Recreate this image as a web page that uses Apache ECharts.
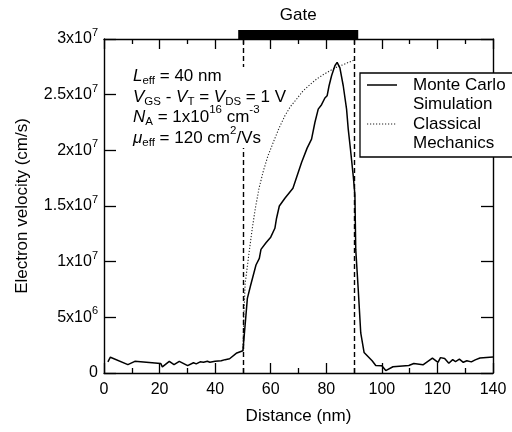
<!DOCTYPE html>
<html><head><meta charset="utf-8">
<script src="https://cdn.jsdelivr.net/npm/echarts@6/dist/echarts.min.js"></script>
<style>html,body{margin:0;padding:0;background:#fff}#c{width:512px;height:432px}</style>
</head><body><div id="c"></div>
<script>
// Monte Carlo simulation (distance nm, velocity in units of 1e6 cm/s)
const mcX = [1.4,2.3,8.6,11.1,20.4,21.0,23.5,25.2,27.1,30.1,32.2,33.2,34.6,35.8,37.2,38.1,40.0,42.2,43.6,45.2,47.8,50.0,51.6,52.8,54.7,55.9,56.5,58.3,60.0,61.5,62.1,63.1,65.1,68.0,71.1,73.1,74.7,75.9,77.1,78.3,79.5,80.3,81.0,81.9,83.1,83.9,84.9,86.1,87.3,87.9,88.7,89.7,90.3,90.6,91.5,92.4,93.6,96.5,97.8,100.0,101.4,104.0,109.7,111.5,114.8,118.2,120.2,121.1,122.6,124.1,125.5,126.5,127.9,129.3,130.6,132.2,133.6,135.3,140.0];
const mcY = [1.0,1.42,0.75,1.05,0.86,0.55,1.05,0.75,1.05,0.66,0.92,0.82,1.0,0.96,1.05,0.96,1.05,1.1,1.2,1.28,1.8,2.0,6.7,7.9,9.7,10.3,11.1,11.7,12.2,13.0,13.9,15.0,15.7,16.6,18.9,20.2,21.0,22.5,23.7,24.1,24.7,24.9,25.8,26.7,27.6,27.9,27.4,25.8,23.7,21.9,20.1,17.7,16.0,11.1,7.5,3.6,1.85,1.1,0.68,0.65,0.22,0.56,0.68,0.85,0.74,1.33,0.96,1.38,1.3,0.88,1.2,1.03,1.24,0.96,1.1,1.0,1.18,1.35,1.43];
// Classical mechanics
const clX = [50.0,50.3,50.8,52.0,53.2,54.4,55.8,57.3,59.0,60.9,63.0,65.1,67.0,69.3,71.5,74.1,76.5,78.9,81.0,83.1,86.1,90.0];
const clY = [2.0,5.0,8.0,10.4,12.7,14.7,16.6,18.1,19.5,20.7,22.0,23.1,23.9,24.6,25.3,25.9,26.4,26.8,27.1,27.4,27.7,28.1];
// Gate region and edges (nm)
const gateRange = [48.3, 91.5];
const gateEdges = [50, 90];
// Tick labels
const xTickLabels = ['0','20','40','60','80','100','120','140'];
const yTickBase = ['0','5x10','1x10','1.5x10','2x10','2.5x10','3x10'];
const yTickExp = ['','6','7','7','7','7','7'];

const FONT = '"Liberation Sans", Arial, sans-serif';
const chart = echarts.init(document.getElementById('c'), null, {renderer: 'canvas'});

const axisCommon = {
  axisLine: {show: true, onZero: false, lineStyle: {color: '#000', width: 1.4}},
  splitLine: {show: false}
};

chart.setOption({
  animation: false,
  backgroundColor: '#fff',
  textStyle: {fontFamily: FONT, color: '#000'},
  grid: {left: 104, right: 19, top: 39, bottom: 59, containLabel: false},
  xAxis: [
    Object.assign({
      type: 'value', position: 'bottom', min: 0, max: 140, interval: 20,
      axisTick: {show: true, inside: true, length: 10, lineStyle: {color: '#000', width: 1.3}},
      minorTick: {show: true, splitNumber: 2, length: 5, lineStyle: {color: '#000', width: 1.3}},
      axisLabel: {margin: 9, fontSize: 16, color: '#000', fontFamily: FONT,
        formatter: v => xTickLabels[Math.round(v / 20)]},
      name: 'Distance (nm)', nameLocation: 'middle', nameGap: 35,
      nameTextStyle: {fontSize: 17, color: '#000', fontFamily: FONT}
    }, axisCommon),
    Object.assign({
      type: 'value', position: 'top', min: 0, max: 140, interval: 20,
      axisTick: {show: true, inside: true, length: 10, lineStyle: {color: '#000', width: 1.3}},
      minorTick: {show: true, splitNumber: 2, length: 5, lineStyle: {color: '#000', width: 1.3}},
      axisLabel: {show: false}
    }, axisCommon)
  ],
  yAxis: [
    Object.assign({
      type: 'value', position: 'left', min: 0, max: 30, interval: 5,
      axisTick: {show: true, inside: true, length: 12, lineStyle: {color: '#000', width: 1.3}},
      axisLabel: {margin: 6, color: '#000', fontFamily: FONT,
        formatter: v => {
          const i = Math.round(v / 5);
          return '{b|' + yTickBase[i] + '}' + (yTickExp[i] ? '{s|' + yTickExp[i] + '}' : '');
        },
        rich: {
          b: {fontSize: 16, fontFamily: FONT, color: '#000'},
          s: {fontSize: 11, fontFamily: FONT, color: '#000', padding: [0, 0, 12, 0]}
        }
      },
      name: 'Electron velocity (cm/s)', nameLocation: 'middle', nameGap: 73, nameRotate: 90,
      nameTextStyle: {fontSize: 17, color: '#000', fontFamily: FONT}
    }, axisCommon),
    Object.assign({
      type: 'value', position: 'right', min: 0, max: 30, interval: 5,
      axisTick: {show: true, inside: true, length: 12, lineStyle: {color: '#000', width: 1.3}},
      axisLabel: {show: false}
    }, axisCommon)
  ],
  series: [
    {
      type: 'line', name: 'Classical', data: clX.map((x, i) => [x, clY[i]]),
      showSymbol: false, symbol: 'none', z: 3,
      lineStyle: {color: '#222', width: 1.1, type: [1.2, 1.8]}
    },
    {
      type: 'line', name: 'Monte Carlo', data: mcX.map((x, i) => [x, mcY[i]]),
      showSymbol: false, symbol: 'none', z: 4,
      lineStyle: {color: '#000', width: 1.5},
      markLine: {
        silent: true, symbol: 'none', label: {show: false},
        lineStyle: {color: '#000', width: 1.4, type: [5, 3]},
        data: gateEdges.map(g => [{coord: [g, 0]}, {coord: [g, 30]}])
      }
    }
  ]
});

const gx0 = chart.convertToPixel({xAxisIndex: 0}, gateRange[0]);
const gx1 = chart.convertToPixel({xAxisIndex: 0}, gateRange[1]);
const topY = chart.convertToPixel({yAxisIndex: 0}, 30);

const rich = {
  n: {fontSize: 17, fontFamily: FONT, color: '#000'},
  i: {fontSize: 17, fontFamily: FONT, fontStyle: 'italic', color: '#000'},
  sub: {fontSize: 11.5, fontFamily: FONT, color: '#000', padding: [9, 0, 0, 0]},
  sup: {fontSize: 11.5, fontFamily: FONT, color: '#000', padding: [0, 0, 15, 0]}
};
const infoLines = [
  '{i|L}{sub|eff}{n| = 40 nm}',
  '{i|V}{sub|GS}{n| - }{i|V}{sub|T}{n| = }{i|V}{sub|DS}{n| = 1 V}',
  '{i|N}{sub|A}{n| = 1x10}{sup|16}{n| cm}{sup|-3}',
  '{i|\u03bc}{sub|eff}{n| = 120 cm}{sup|2}{n|/Vs}'
];
const infoY = [76, 97, 117.5, 138];

const graphics = [
  {type: 'rect', shape: {x: gx0, y: topY - 9, width: gx1 - gx0, height: 9}, style: {fill: '#000'}, z: 10},
  {type: 'text', x: (gx0 + gx1) / 2, y: 15.5, style: {text: 'Gate', font: '17px ' + FONT, fill: '#000', align: 'center', verticalAlign: 'middle'}, z: 10},
  // white backing of the annotation block
  {type: 'rect', shape: {x: 129, y: 67, width: 158, height: 41}, style: {fill: '#fff'}, z: 9},
  {type: 'rect', shape: {x: 129, y: 107, width: 134, height: 41}, style: {fill: '#fff'}, z: 9}
];
infoLines.forEach((t, k) => {
  graphics.push({type: 'text', x: 133, y: infoY[k], z: 10,
    style: {text: t, rich: rich, align: 'left', verticalAlign: 'middle'}});
});
// legend box
graphics.push({type: 'rect', shape: {x: 360, y: 73, width: 170, height: 84}, style: {fill: '#fff', stroke: '#000', lineWidth: 1.3}, z: 20});
graphics.push({type: 'line', shape: {x1: 367, y1: 85, x2: 397, y2: 85}, style: {stroke: '#000', lineWidth: 1.5}, z: 21});
graphics.push({type: 'line', shape: {x1: 367, y1: 124, x2: 397, y2: 124}, style: {stroke: '#222', lineWidth: 1.1, lineDash: [1.2, 1.8]}, z: 21});
[['Monte Carlo', 85], ['Simulation', 104], ['Classical', 124], ['Mechanics', 143]].forEach(([t, y]) => {
  graphics.push({type: 'text', x: 413, y: y, z: 21,
    style: {text: t, font: '17px ' + FONT, fill: '#000', align: 'left', verticalAlign: 'middle'}});
});
chart.setOption({graphic: graphics});
</script>
</body></html>
